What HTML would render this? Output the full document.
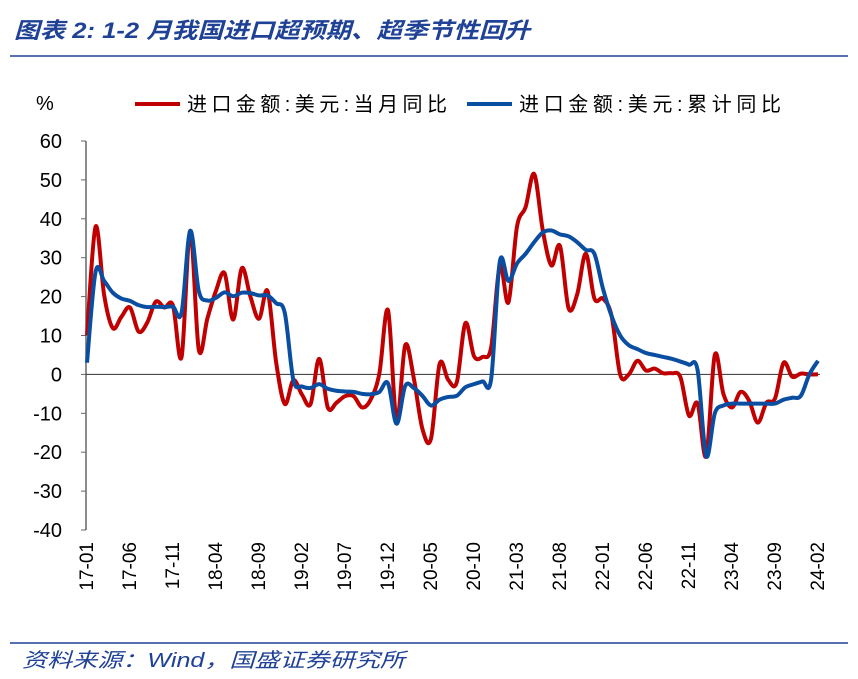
<!DOCTYPE html>
<html><head><meta charset="utf-8">
<style>
body{margin:0;background:#fff;width:858px;height:679px;overflow:hidden;font-family:"Liberation Sans","Noto Sans CJK SC",sans-serif}
svg{position:absolute;left:0;top:0}
</style></head>
<body>
<svg id="c" width="858" height="679">
<text x="14" y="38" font-size="22" font-style="italic" font-weight="bold" fill="#1f4196" textLength="516" lengthAdjust="spacingAndGlyphs">图表 2:  1-2 月我国进口超预期、超季节性回升</text>
<line x1="10" y1="56" x2="848" y2="56" stroke="#1f4196" stroke-width="1.5"/>
<line x1="10" y1="643" x2="848" y2="643" stroke="#1f4196" stroke-width="1.5"/>
<text x="22" y="667" font-size="20" font-style="italic" fill="#1f4196" textLength="383" lengthAdjust="spacingAndGlyphs">资料来源：Wind，国盛证券研究所</text>
<text x="36" y="110" font-size="20" fill="#000">%</text>
<g>
<line x1="135" y1="104" x2="180" y2="104" stroke="#c00000" stroke-width="4"/>
<text x="187" y="111" font-size="20" textLength="260" lengthAdjust="spacing">进口金额:美元:当月同比</text>
<line x1="467" y1="104" x2="512" y2="104" stroke="#0a4ea2" stroke-width="4"/>
<text x="519" y="111" font-size="20" textLength="262" lengthAdjust="spacing">进口金额:美元:累计同比</text>
</g>
<g id="axes"></g>
<g id="series"></g>
</svg>
<script>
const yTicks=[60,50,40,30,20,10,0,-10,-20,-30,-40];
const xLabels=["17-01","17-06","17-11","18-04","18-09","19-02","19-07","19-12","20-05","20-10","21-03","21-08","22-01","22-06","22-11","23-04","23-09","24-02"];
const monthly=[10,38,20.3,11.9,14.8,17.2,11,13.3,18.7,17.2,17.7,4.5,
36.9,6.3,14.4,21.5,26,14.1,27.3,20,14.3,21.4,3,-7.6,
-1.5,-5.2,-7.6,4,-8.5,-7.3,-5.6,-5.6,-8.5,-6.4,0.3,16.5,
-12,7.5,-1,-14,-16.5,2.7,-1.4,-2,13.2,4.7,4.5,7,
28,18.5,38,43,51.5,37,28,33,17,20.6,31,19.5,
19.5,15,-0.1,0,3.5,1,1.5,0.3,0.3,-0.7,-10.6,-7.5,
-21,5,-5,-8.5,-4.5,-6.8,-12.4,-7.3,-6.2,3,-0.6,0.2,0,0];
const cumulative=[3,26.4,24,21,19.5,18.9,17.8,17.3,17.4,17.3,17.4,15.9,
36.9,21.4,19,19.7,21.1,20.1,21,20.9,20.3,20.3,18.3,15.8,
-1.5,-3.1,-3.5,-2.5,-3.7,-4.2,-4.4,-4.5,-5,-5.1,-4.5,-2.3,
-12.7,-3,-3.5,-5.5,-8,-6.5,-5.8,-5.5,-3.3,-2.5,-1.8,-1.1,
29,24,28.5,31,34,36.5,37,36,35.5,34,32,31,
22,15,10,7.5,6.5,5.5,5,4.5,4,3.3,2.5,1.1,
-21,-10,-8,-7.5,-7.5,-7.5,-7.5,-7.5,-7.5,-6.5,-6,-5.5,0,3.5];
const NS="http://www.w3.org/2000/svg";
const x0=87,step=8.6,yTop=141,yBot=530,vMax=60,vMin=-40;
const X=i=>x0+i*step;
const Y=v=>yTop+(vMax-v)/(vMax-vMin)*(yBot-yTop);
function mk(t,a,p){const e=document.createElementNS(NS,t);for(const k in a)e.setAttribute(k,a[k]);(p||document.getElementById('axes')).appendChild(e);return e;}
let e=mk('line',{x1:86,y1:yTop,x2:86,y2:yBot,stroke:'#666','stroke-width':1.5});


yTicks.forEach(v=>{
 let t=mk('line',{x1:81,y1:Y(v),x2:86,y2:Y(v),stroke:'#666','stroke-width':1});
 
 
 let l=mk('text',{x:62,y:Y(v)+7,'font-size':20,'text-anchor':'end'});
 l.textContent=v;
 
 
});
e=mk('line',{x1:86,y1:Y(0),x2:820,y2:Y(0),stroke:'#333','stroke-width':1});


xLabels.forEach((s,k)=>{
 const i=k*5;const x=X(i)+6;
 let l=mk('text',{x:0,y:0,'font-size':19,'text-anchor':'end',transform:`translate(${x},542) rotate(-90)`});
 l.textContent=s;
 
 
});
function path(vals){
 const p=vals.map((v,i)=>[X(i),Y(v)]);
 let d=`M${p[0][0]},${p[0][1]}`;
 for(let i=0;i<p.length-1;i++){
  const a=p[Math.max(0,i-1)],b=p[i],c=p[i+1],n=p[Math.min(p.length-1,i+2)];
  const t=6;
  d+=` C${b[0]+(c[0]-a[0])/t},${b[1]+(c[1]-a[1])/t} ${c[0]-(n[0]-b[0])/t},${c[1]-(n[1]-b[1])/t} ${c[0]},${c[1]}`;
 }
 return d;
}
const sg=document.getElementById('series');
let r=mk('path',{d:path(monthly),fill:'none',stroke:'#c00000','stroke-width':4,'stroke-linejoin':'round'},sg);


let b=mk('path',{d:path(cumulative),fill:'none',stroke:'#0a4ea2','stroke-width':4,'stroke-linejoin':'round'},sg);


</script>
</body></html>
